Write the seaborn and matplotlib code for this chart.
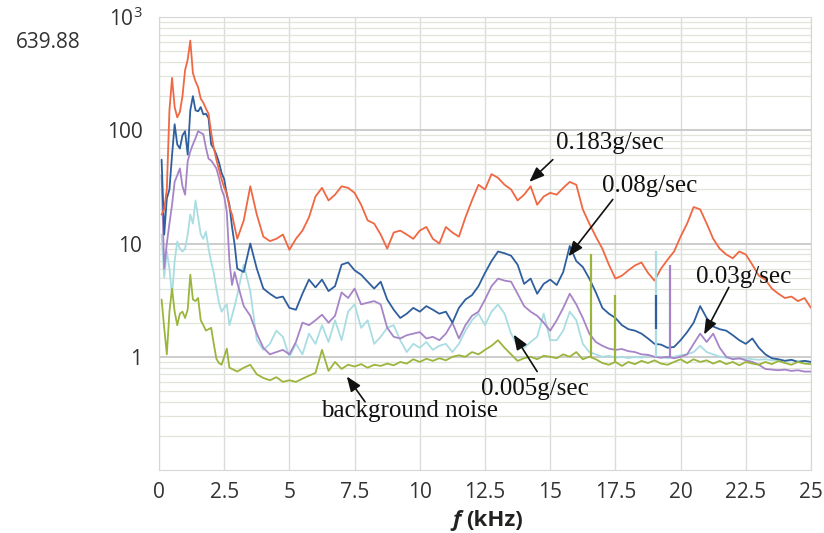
import numpy as np
import pandas as pd
import matplotlib
matplotlib.use("Agg")
import matplotlib.pyplot as plt
from matplotlib.ticker import FixedLocator, LogLocator, NullFormatter
import seaborn as sns

# frequency grid (kHz): fine below 3 kHz, 0.25 kHz above
freq = np.concatenate([np.arange(1, 31) / 10, np.arange(13, 101) / 4])

# spectra, one row per kHz above 3 kHz
red_183 = [18, 20, 30, 150, 290, 160, 130, 145, 200, 340,
           420, 620, 320, 270, 240, 190, 175, 155, 140, 95,
           70, 55, 45, 37, 31, 28, 21, 18, 14, 11,
           16, 32, 18, 11.5,
           10.5, 11, 12, 8.8,
           11, 13, 17, 26,
           31, 24, 27, 32,
           31, 28, 22, 16,
           15, 12, 9, 12.5,
           13, 12, 11, 13,
           14, 11, 10, 14,
           12.5, 11.5, 17, 24,
           33, 30, 41, 38,
           33, 30, 24, 27,
           32, 22, 26, 28,
           27, 31, 35, 33,
           20, 15, 11.5, 9,
           6.5, 4.9, 5.2, 5.8,
           6.4, 6.8, 5.5, 4.7,
           6, 7.2, 8.5, 11.5,
           15, 21, 20, 15,
           11, 9, 8, 7.4,
           8.5, 8, 6.5, 5.2,
           4.8, 4, 3.6, 3.3,
           3.4, 3.1, 3.3, 2.7]

blue_08 = [55, 12, 25, 30, 60, 113, 75, 69, 90, 98,
           61, 150, 200, 150, 147, 160, 138, 140, 128, 75,
           69, 61, 52, 42, 37, 27, 22, 14, 9.8, 6,
           5.6, 10, 6, 4,
           3.6, 3.3, 3.4, 2.7,
           2.6, 3.6, 4.8, 4.1,
           4.8, 3.8, 4.2, 6.5,
           6.8, 5.8, 5.3, 4.6,
           4.0, 4.6, 3.2, 2.6,
           2.2, 2.4, 2.7, 2.5,
           2.8, 2.6, 2.4, 2.5,
           2.0, 2.7, 3.2, 3.5,
           4.2, 5.5, 7, 8.5,
           8.2, 7.8, 6.5, 4.4,
           4.9, 3.6, 4.4, 4.8,
           4.3, 5.6, 9.5, 7,
           6.2, 4.9, 3.7, 2.7,
           2.4, 2.2, 1.9, 1.75,
           1.7, 1.6, 1.45, 1.3,
           1.28, 1.2, 1.22, 1.4,
           1.65, 2.0, 2.8, 2.2,
           1.85, 1.75, 1.7, 1.55,
           1.4, 1.3, 1.45, 1.2,
           1.05, 0.97, 0.95, 0.92,
           0.94, 0.9, 0.92, 0.9]

purple_03 = [40, 6, 10, 15, 22, 35, 40, 46, 32, 27,
             53, 65, 75, 85, 98, 95, 92, 70, 56, 54,
             50, 46, 38, 30, 26, 19, 7, 4.3, 5.6, 4.5,
             2.8, 2.3, 1.6, 1.2,
             1.05, 1.1, 1.15, 1.05,
             1.35, 2.0, 1.9, 2.1,
             2.35, 2.0, 2.3, 3.7,
             3.3, 4.0, 2.9, 3.0,
             3.1, 2.9, 1.8, 1.5,
             1.45, 1.55, 1.6, 1.65,
             1.45, 1.5, 1.4, 1.6,
             2.0, 1.45, 1.9, 2.3,
             2.5, 3.2, 4.2, 4.9,
             4.7, 4.6, 3.6, 2.8,
             2.5, 2.3, 2.0, 1.7,
             2.1, 2.7, 3.6, 2.9,
             2.2, 1.6, 1.35, 1.25,
             1.18, 1.15, 1.17, 1.12,
             1.1, 1.05, 1.04, 1.0,
             0.98, 1.0, 0.97, 1.0,
             1.05, 1.3, 1.6, 1.35,
             1.6, 1.2, 1.0, 0.95,
             0.97, 0.93, 0.9, 0.85,
             0.78, 0.77, 0.76, 0.77,
             0.75, 0.76, 0.74, 0.74]

cyan_005 = [12, 5, 8.5, 6, 3.5, 7, 10.4, 9, 8.5, 9,
            12, 18, 15, 24, 17, 12, 11, 12.7, 9, 6.9,
            5.5, 4, 3, 2.5, 2.7, 2.9, 1.9, 2.3, 2.8, 3.5,
            6.5, 3.8, 1.4, 1.15,
            1.3, 1.7, 1.5, 1.0,
            1.3, 1.05, 1.6, 1.3,
            1.9, 1.35, 2.1, 1.4,
            2.5, 2.9, 1.8, 2.1,
            1.3, 1.5, 1.8, 1.9,
            1.4, 1.1, 1.3, 1.2,
            1.35, 1.15, 1.25, 1.3,
            1.1, 1.3, 1.7, 2.1,
            2.4, 1.9, 2.5, 2.9,
            2.4, 1.6, 1.25, 1.2,
            1.35, 1.5, 2.4, 1.4,
            1.4, 1.7, 2.5, 2.1,
            1.3, 1.1, 1.05, 1.0,
            1.02, 0.98, 1.0, 0.97,
            1.0, 0.98, 1.02, 0.99,
            1.0, 0.97, 1.0, 1.03,
            1.05, 1.1, 1.25, 1.1,
            1.05, 1.0, 0.98, 0.97,
            0.96, 0.97, 0.95, 0.94,
            0.95, 0.93, 0.94, 0.92,
            0.93, 0.91, 0.92, 0.9]

green_noise = [3.2, 1.8, 1.05, 2.5, 4, 2.5, 1.9, 2.4, 2.5, 2.2,
               2.6, 5.3, 3.2, 3.1, 3.3, 2.1, 1.9, 1.7, 1.75, 1.8,
               1.3, 0.96, 0.88, 0.85, 1.0, 1.18, 0.8, 0.78, 0.76, 0.74,
               0.8, 0.85, 0.7, 0.65,
               0.62, 0.66, 0.6, 0.62,
               0.6, 0.64, 0.68, 0.72,
               1.15, 0.75, 0.9, 0.78,
               0.85, 0.82, 0.86, 0.8,
               0.85, 0.83, 0.87, 0.84,
               0.9, 0.87, 0.95, 0.9,
               0.96, 0.92, 0.97, 0.93,
               1.0, 1.03, 1.0, 1.1,
               1.05, 1.15, 1.25, 1.4,
               1.2, 1.05, 0.92, 0.97,
               1.0, 0.95, 1.02, 1.0,
               0.97, 1.05, 1.0, 1.1,
               0.95, 1.0, 0.95, 0.88,
               0.85, 0.9, 0.83, 0.9,
               0.86, 0.92, 0.88, 0.93,
               0.87, 0.85, 0.9, 0.95,
               0.88, 0.95, 0.9, 0.93,
               0.87, 0.92, 0.86, 0.9,
               0.84, 0.9, 0.87, 0.85,
               0.9, 0.86, 0.92, 0.88,
               0.85, 0.9, 0.87, 0.86]

# narrow spikes that show up as vertical strokes
spike_freq = [16.55, 17.5, 19.05, 19.05, 19.6]
spike_low = [1.0, 0.9, 1.0, 1.75, 1.0]
spike_high = [8.0, 3.5, 8.5, 3.5, 6.5]
spike_series = ["noise", "noise", "0.005", "0.08", "0.03"]

df = pd.DataFrame({"f": freq, "0.005": cyan_005, "0.03": purple_03,
                   "0.08": blue_08, "0.183": red_183, "noise": green_noise})
df = df.melt(id_vars="f", var_name="series", value_name="amp")

palette = {"0.005": "#a9dde2", "0.03": "#a784c8", "0.08": "#2f5f9f",
           "0.183": "#f06843", "noise": "#9bb53c"}

sns.set_style("white")
plt.rcParams["font.family"] = ["Open Sans", "DejaVu Sans"]

fig = plt.figure(figsize=(8.24, 5.33), dpi=100)
ax = fig.add_axes([159 / 824, 63 / 533, 652 / 824, 453 / 533])

sns.lineplot(data=df, x="f", y="amp", hue="series",
             hue_order=["0.005", "0.03", "0.08", "0.183", "noise"],
             palette=palette, estimator=None, sort=False, lw=1.3,
             legend=False, ax=ax)
ax.vlines(spike_freq, spike_low, spike_high,
          colors=[palette[s] for s in spike_series], lw=1.6, zorder=3)

ax.set_yscale("log")
ax.set_xlim(0, 25)
ax.set_ylim(0.1, 1000)
ax.set_xticks(np.arange(0, 25.1, 2.5))
ax.set_xticklabels(["0", "2.5", "5", "7.5", "10", "12.5", "15", "17.5",
                    "20", "22.5", "25"])
ax.yaxis.set_major_locator(FixedLocator([1, 10, 100, 1000]))
ax.set_yticklabels(["1", "10", "100", r"$\mathregular{10^3}$"])
ax.yaxis.set_minor_locator(LogLocator(base=10, subs=np.arange(2, 10)))
ax.yaxis.set_minor_formatter(NullFormatter())
ax.tick_params(axis="both", which="both", length=0, labelsize=15,
               colors="#333333")
ax.tick_params(axis="y", pad=12)
ax.tick_params(axis="x", pad=9)
ax.set_xlabel("")
ax.set_ylabel("")

ax.grid(True, which="major", axis="x", color="#dcdcdc", lw=1.0)
ax.grid(True, which="major", axis="y", color="#c4c4c4", lw=1.2)
ax.grid(True, which="minor", axis="y", color="#dfe6d9", lw=0.9)
ax.set_axisbelow(True)
for sp in ax.spines.values():
    sp.set_color("#d6d6d6")

# annotations
serif = dict(family="Liberation Serif", fontsize=18, color="#111111",
             ha="center", va="center")
arrow = dict(arrowstyle="-|>,head_length=0.9,head_width=0.35",
             color="#111111", lw=1.2, shrinkA=0, shrinkB=0)
labels = [("0.183g/sec", (17.3, 77), (15.1, 55), (14.2, 35)),
          ("0.08g/sec", (18.8, 32), (17.4, 24.5), (15.7, 7.7)),
          ("0.03g/sec", (22.4, 5.1), (21.85, 4.1), (20.9, 1.57)),
          ("0.005g/sec", (14.4, 0.52), (14.5, 0.74), (13.6, 1.57)),
          ("background noise", (9.6, 0.33), (7.9, 0.40), (7.2, 0.67))]
for txt, pos, tail, tip in labels:
    ax.text(pos[0], pos[1], txt, **serif)
    ax.annotate("", xy=tip, xytext=tail, arrowprops=arrow)

fig.text(48 / 824, 1 - 42 / 533, "639.88", fontsize=15, color="#333333",
         ha="center", va="center")
fig.text(461 / 824, 0.024, "f", fontsize=16, fontweight="bold", style="italic",
         ha="right", va="center", color="#222222")
fig.text(466 / 824, 0.024, "(kHz)", fontsize=16, fontweight="bold",
         ha="left", va="center", color="#222222")

fig.savefig("out.png", dpi=100)
